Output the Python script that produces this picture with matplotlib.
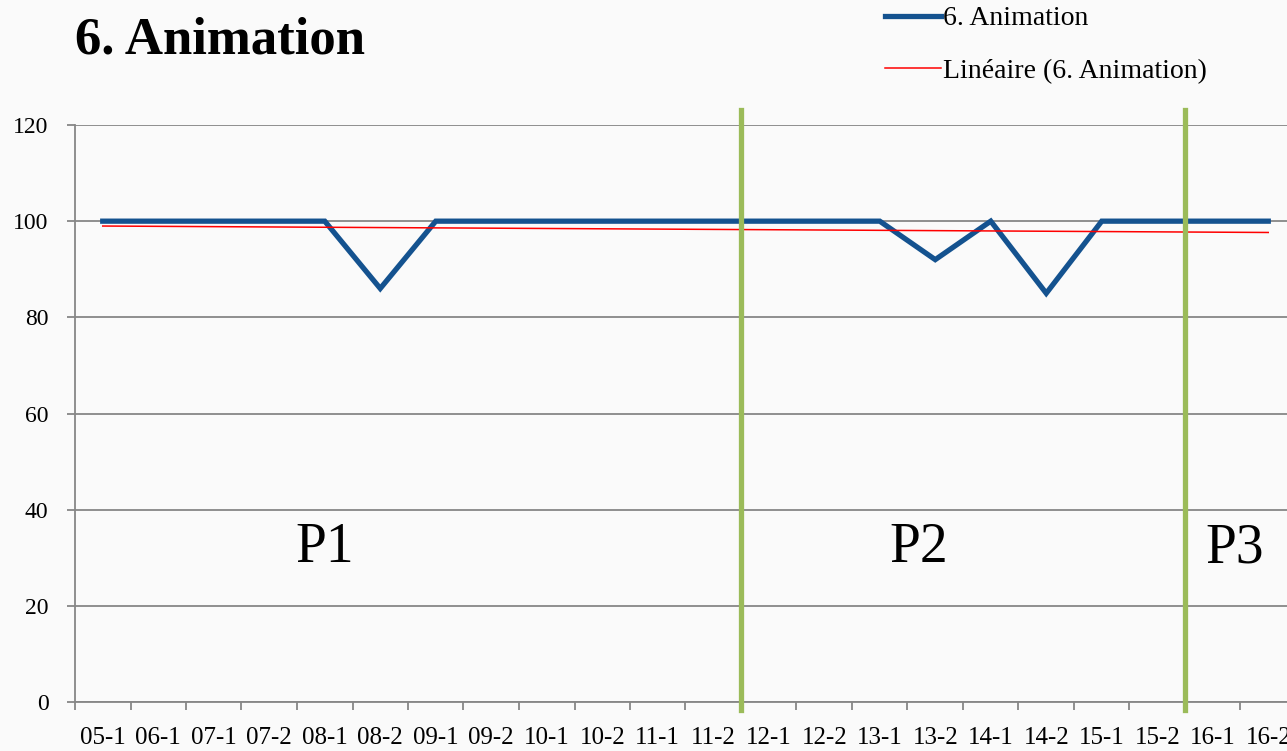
import matplotlib.pyplot as plt
import numpy as np

# semesters on the x axis
periods = ["05-1", "06-1", "07-1", "07-2", "08-1", "08-2", "09-1", "09-2",
           "10-1", "10-2", "11-1", "11-2", "12-1", "12-2", "13-1", "13-2",
           "14-1", "14-2", "15-1", "15-2", "16-1", "16-2"]
animation = [100, 100, 100, 100, 100, 86, 100, 100, 100, 100, 100,
             100, 100, 100, 100, 92, 100, 85, 100, 100, 100, 100]
y_ticks = [0, 20, 40, 60, 80, 100, 120]

# phase separators (between 11-2/12-1 and 15-2/16-1) and phase labels
phase_breaks = [11.5, 19.5]
phase_names = ["P1", "P2", "P3"]
phase_x = [4.0, 14.7, 20.4]
phase_y = 32

plt.rcParams['font.family'] = ['Liberation Serif', 'DejaVu Serif']

fig = plt.figure(figsize=(12.87, 7.51), dpi=100)
fig.patch.set_facecolor("#fafafa")
ax = fig.add_axes([75 / 1287, 49 / 751, 1221 / 1287, 577 / 751])
ax.set_facecolor("#fafafa")

x = np.arange(len(periods))
slope, icpt = np.polyfit(x, animation, 1)

line_blue, = ax.plot(x, animation, color="#14528f", lw=3.8,
                     solid_joinstyle="miter", zorder=3, label="6. Animation")
line_red, = ax.plot(x, slope * x + icpt, color="#ff0000", lw=1.1, zorder=4,
                    label="Linéaire (6. Animation)")

for b in phase_breaks:
    ax.axvline(b, ymin=-0.014, ymax=1.026, color="#9bbb59", lw=3.8,
               clip_on=False, zorder=5)

for name, px in zip(phase_names, phase_x):
    ax.text(px, phase_y, name, ha="center", va="center", fontsize=40)

ax.set_xlim(-0.5, len(periods) - 0.5)
ax.set_ylim(0, 120)
ax.set_yticks(y_ticks)
ax.set_yticklabels([str(v) for v in y_ticks], fontsize=17)
ax.yaxis.grid(True, color="#868686", lw=1.3)
ax.set_axisbelow(True)

ax.set_xticks(x)
ax.set_xticklabels(periods, fontsize=18)
ax.set_xticks(np.arange(len(periods) + 1) - 0.5, minor=True)
ax.tick_params(axis="x", which="major", length=0, pad=18)
ax.tick_params(axis="x", which="minor", length=6, color="#868686", width=1.3)
ax.tick_params(axis="y", length=6, color="#868686", width=1.3, pad=13)

for s in ["top", "right"]:
    ax.spines[s].set_visible(False)
for s in ["left", "bottom"]:
    ax.spines[s].set_color("#868686")
    ax.spines[s].set_linewidth(1.3)

fig.text(75 / 1287, 1 - 53 / 751, "6. Animation", fontsize=38,
         fontweight="bold", va="baseline", ha="left")

fig.legend(handles=[line_blue, line_red], loc="upper left",
           bbox_to_anchor=(885 / 1287, 1 - 6 / 751), frameon=False,
           fontsize=20, handlelength=2.0, handletextpad=0.1,
           labelspacing=0.98, borderpad=0, borderaxespad=0)

plt.savefig("out.png", dpi=100, facecolor=fig.get_facecolor())
